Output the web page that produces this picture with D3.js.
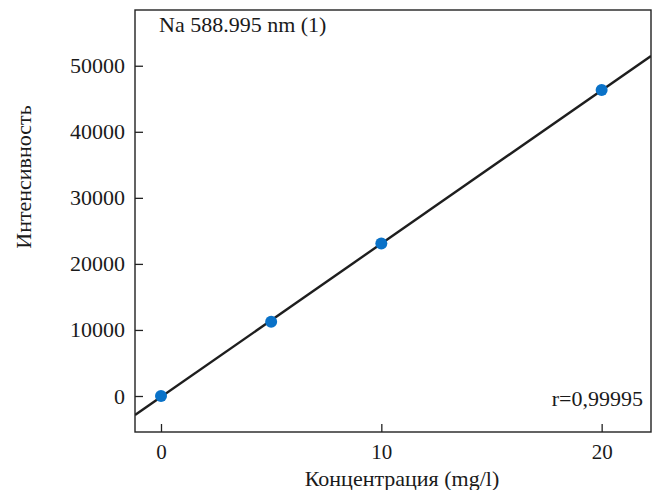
<!DOCTYPE html>
<html>
<head>
<meta charset="utf-8">
<script src="https://cdn.jsdelivr.net/npm/d3@7"></script>
<style>
  body { margin: 0; background: #fff; }
  svg text { font-family: "Liberation Serif", "DejaVu Serif", serif; fill: #1a1a1a; }
</style>
</head>
<body>
<div id="chart"></div>
<script>
// calibration points, Na 588.995 nm
const CONC = [0, 5, 10, 20];
const INTENSITY = [0, 11250, 23100, 46320];
const X_TICKS = [0, 10, 20];
const Y_TICKS = [0, 10000, 20000, 30000, 40000, 50000];
const X_DOMAIN = [-1.18, 22.24];
const Y_DOMAIN = [-5450, 58440];

const width = 657, height = 490;
const margin = { top: 10, right: 6, bottom: 58, left: 135 };
const fontSize = 22;

const svg = d3.select("#chart").append("svg")
  .attr("width", width)
  .attr("height", height);

const x = d3.scaleLinear().domain(X_DOMAIN).range([margin.left, width - margin.right]);
const y = d3.scaleLinear().domain(Y_DOMAIN).range([height - margin.bottom, margin.top]);

// least squares fit through the points
const mx = d3.mean(CONC), my = d3.mean(INTENSITY);
const slope = d3.sum(CONC, (c, i) => (c - mx) * (INTENSITY[i] - my)) / d3.sum(CONC, c => (c - mx) ** 2);
const intercept = my - slope * mx;

svg.append("clipPath").attr("id", "plot-clip")
  .append("rect")
  .attr("x", margin.left).attr("y", margin.top)
  .attr("width", width - margin.left - margin.right)
  .attr("height", height - margin.top - margin.bottom);

svg.append("g")
  .attr("transform", `translate(0,${height - margin.bottom})`)
  .call(d3.axisBottom(x).tickValues(X_TICKS).tickSize(-8).tickPadding(12).tickFormat(d3.format("d")))
  .call(g => g.select(".domain").remove())
  .call(g => g.selectAll("line").attr("stroke", "#222").attr("stroke-width", 1.3))
  .call(g => g.selectAll("text").attr("font-size", 21).attr("font-family", null));

svg.append("g")
  .attr("transform", `translate(${margin.left},0)`)
  .call(d3.axisLeft(y).tickValues(Y_TICKS).tickSize(-8).tickPadding(10).tickFormat(d3.format("d")))
  .call(g => g.select(".domain").remove())
  .call(g => g.selectAll("line").attr("stroke", "#222").attr("stroke-width", 1.3))
  .call(g => g.selectAll("text").attr("font-size", fontSize).attr("font-family", null));

svg.append("path")
  .datum(X_DOMAIN)
  .attr("clip-path", "url(#plot-clip)")
  .attr("d", d3.line().x(d => x(d)).y(d => y(slope * d + intercept)))
  .attr("fill", "none")
  .attr("stroke", "#1e1e1e")
  .attr("stroke-width", 2.4);

svg.append("g")
  .selectAll("circle")
  .data(CONC)
  .join("circle")
  .attr("cx", d => x(d))
  .attr("cy", (d, i) => y(INTENSITY[i]))
  .attr("r", 6)
  .attr("fill", "#0a72c8");

svg.append("rect")
  .attr("x", margin.left)
  .attr("y", margin.top)
  .attr("width", width - margin.left - margin.right)
  .attr("height", height - margin.top - margin.bottom)
  .attr("fill", "none")
  .attr("stroke", "#222")
  .attr("stroke-width", 1.4);

svg.append("text")
  .attr("x", 159)
  .attr("y", 32)
  .attr("font-size", fontSize)
  .text("Na 588.995 nm (1)");

svg.append("text")
  .attr("x", 643)
  .attr("y", 406)
  .attr("text-anchor", "end")
  .attr("font-size", fontSize)
  .text("r=0,99995");

svg.append("text")
  .attr("x", 402)
  .attr("y", 486)
  .attr("text-anchor", "middle")
  .attr("font-size", fontSize)
  .text("Концентрация (mg/l)");

svg.append("text")
  .attr("transform", "translate(31,177) rotate(-90)")
  .attr("text-anchor", "middle")
  .attr("font-size", fontSize)
  .text("Интенсивность");
</script>
</body>
</html>
